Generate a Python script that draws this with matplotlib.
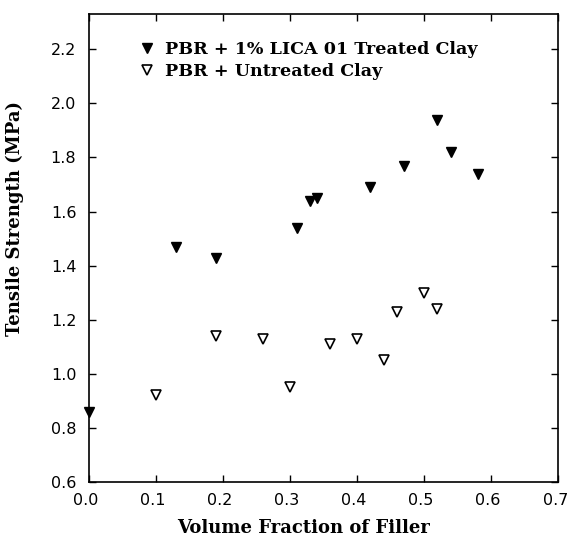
import numpy as np
import matplotlib
matplotlib.use("Agg")
import matplotlib.pyplot as plt
import matplotlib.transforms as mtransforms

# Datos
x_tratada = [0.0, 0.13, 0.19, 0.31, 0.33, 0.34, 0.42, 0.47, 0.52, 0.54, 0.58]
y_tratada = [0.86, 1.47, 1.43, 1.54, 1.64, 1.65, 1.69, 1.77, 1.94, 1.82, 1.74]

x_sin_tratar = [0.10, 0.19, 0.26, 0.30, 0.36, 0.40, 0.44, 0.46, 0.50, 0.52]
y_sin_tratar = [0.92, 1.14, 1.13, 0.95, 1.11, 1.13, 1.05, 1.23, 1.30, 1.24]

x_ticks = [0.0, 0.1, 0.2, 0.3, 0.4, 0.5, 0.6, 0.7]
y_ticks = [0.6, 0.8, 1.0, 1.2, 1.4, 1.6, 1.8, 2.0, 2.2]

fig = plt.figure(figsize=(5.69, 5.41), dpi=100)
ax = fig.add_axes([0.156, 0.109, 0.825, 0.865])

ax.plot(x_tratada, y_tratada, linestyle='none', marker='v', markersize=7,
        color='black', label='PBR + 1% LICA 01 Treated Clay', clip_on=False)
ax.plot(x_sin_tratar, y_sin_tratar, linestyle='none', marker='v', markersize=7,
        markerfacecolor='white', markeredgecolor='black', markeredgewidth=1.2,
        label='PBR + Untreated Clay', clip_on=False)

ax.set_xlim(0, 0.7)
ax.set_ylim(0.6, 2.33)
ax.set_xticks(x_ticks)
ax.set_yticks(y_ticks)
ax.set_xticklabels([f'{v:.1f}' for v in x_ticks], family='DejaVu Sans', fontsize=11.5)
ax.set_yticklabels([f'{v:.1f}' for v in y_ticks], family='DejaVu Sans', fontsize=11.5)
ax.tick_params(direction='in', length=5, top=True, right=True, width=1)
ax.tick_params(axis='x', pad=8)
ax.tick_params(axis='y', pad=9)

# las etiquetas del eje x quedan un poco a la izquierda de la marca
desplazar = mtransforms.ScaledTranslation(-3 / 100, 0, fig.dpi_scale_trans)
for lbl in ax.get_xticklabels():
    lbl.set_transform(lbl.get_transform() + desplazar)

for s in ax.spines.values():
    s.set_linewidth(1.2)

ax.set_xlabel('Volume Fraction of Filler', family='DejaVu Serif', fontweight='bold',
              fontsize=13)
ax.set_ylabel('Tensile Strength (MPa)', family='DejaVu Serif', fontweight='bold',
              fontsize=13)
ax.xaxis.set_label_coords(0.458, -0.08)
ax.yaxis.set_label_coords(-0.139, 0.564)

leg = ax.legend(loc='upper left', bbox_to_anchor=(0.072, 0.976), frameon=False,
                handletextpad=0.5, handlelength=1.0, labelspacing=0.3,
                prop={'family': 'DejaVu Serif', 'weight': 'bold', 'size': 12.6})

fig.savefig('out.png', dpi=100)
